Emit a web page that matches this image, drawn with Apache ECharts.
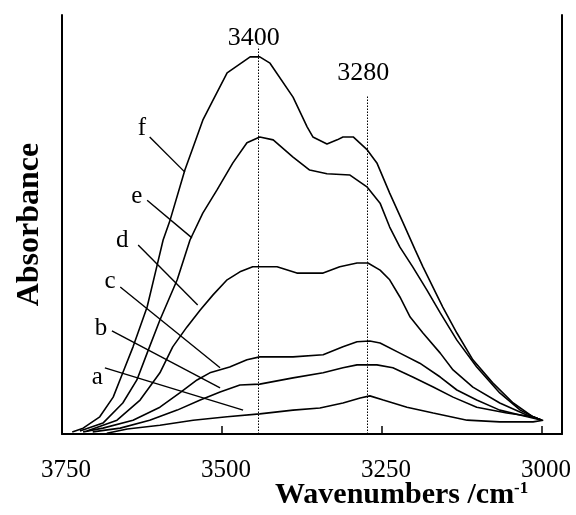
<!DOCTYPE html>
<html>
<head>
<meta charset="utf-8">
<script src="https://cdn.jsdelivr.net/npm/echarts@6/dist/echarts.min.js"></script>
<style>
  html, body { margin: 0; padding: 0; background: #fff; }
  #chart { width: 576px; height: 515px; }
</style>
</head>
<body>
<div id="chart"></div>
<script>
// tick labels on the wavenumber axis
const tickLabels = [3750, 3500, 3250, 3000];
const tickMarks = [3500, 3250, 3000];

// spectra [wavenumber, absorbance]
const curveA = [[3680,0.002],[3648,0.012],[3597,0.021],[3545,0.033],[3492,0.041],[3441,0.048],[3389,0.057],[3347,0.062],[3311,0.074],[3284,0.086],[3269,0.091],[3248,0.081],[3211,0.064],[3170,0.050],[3117,0.033],[3066,0.029],[3014,0.029],[2998,0.033]];
const curveB = [[3702,0.005],[3659,0.014],[3613,0.033],[3570,0.057],[3534,0.081],[3503,0.100],[3472,0.117],[3441,0.119],[3389,0.134],[3342,0.146],[3311,0.158],[3289,0.165],[3258,0.165],[3233,0.158],[3202,0.136],[3170,0.112],[3139,0.088],[3102,0.064],[3055,0.050],[3014,0.041],[3000,0.033]];
const curveC = [[3717,0.005],[3686,0.014],[3639,0.033],[3597,0.064],[3566,0.098],[3539,0.129],[3519,0.146],[3488,0.160],[3461,0.177],[3441,0.184],[3389,0.184],[3342,0.189],[3311,0.208],[3289,0.220],[3269,0.222],[3253,0.217],[3222,0.193],[3191,0.169],[3159,0.136],[3133,0.105],[3102,0.081],[3066,0.057],[3023,0.041],[3000,0.033]];
const curveD = [[3711,0.007],[3664,0.033],[3628,0.081],[3597,0.146],[3577,0.208],[3555,0.255],[3534,0.296],[3514,0.332],[3492,0.368],[3472,0.387],[3452,0.399],[3414,0.399],[3383,0.384],[3342,0.384],[3316,0.399],[3289,0.408],[3272,0.408],[3253,0.391],[3238,0.368],[3222,0.327],[3206,0.279],[3186,0.241],[3159,0.193],[3139,0.153],[3108,0.112],[3066,0.074],[3023,0.045],[3000,0.033]];
const curveE = [[3722,0.007],[3686,0.026],[3655,0.074],[3633,0.129],[3617,0.193],[3597,0.272],[3570,0.368],[3550,0.463],[3530,0.527],[3508,0.582],[3483,0.647],[3461,0.695],[3441,0.709],[3420,0.702],[3389,0.661],[3363,0.630],[3336,0.621],[3300,0.618],[3273,0.589],[3253,0.551],[3238,0.494],[3222,0.446],[3202,0.399],[3180,0.344],[3159,0.289],[3133,0.224],[3102,0.160],[3066,0.098],[3034,0.057],[3014,0.041],[3000,0.033]];
const curveF = [[3734,0.005],[3717,0.014],[3691,0.041],[3670,0.088],[3655,0.146],[3639,0.208],[3617,0.303],[3602,0.399],[3592,0.463],[3581,0.511],[3558,0.630],[3545,0.685],[3530,0.749],[3514,0.797],[3492,0.862],[3456,0.900],[3441,0.900],[3425,0.885],[3389,0.804],[3367,0.733],[3358,0.709],[3336,0.692],[3320,0.702],[3311,0.709],[3295,0.709],[3273,0.678],[3258,0.647],[3238,0.575],[3217,0.504],[3198,0.439],[3186,0.399],[3155,0.303],[3133,0.241],[3108,0.177],[3077,0.122],[3045,0.074],[3014,0.041],[3000,0.033]];

const curveNames = ['a', 'b', 'c', 'd', 'e', 'f'];
const curves = [curveA, curveB, curveC, curveD, curveE, curveF];

// letter positions and their leader lines (start, end)
const letterPos = [[3695,0.134],[3689,0.253],[3675,0.363],[3656,0.463],[3633,0.568],[3625,0.730]];
const leaderLines = [
  [[3683,0.158],[3467,0.057]],
  [[3672,0.246],[3503,0.110]],
  [[3659,0.351],[3503,0.158]],
  [[3631,0.451],[3538,0.308]],
  [[3617,0.558],[3547,0.468]],
  [[3613,0.709],[3558,0.625]]
];

// dotted peak markers: where drawn, label text, top of line
const peakPos = [3444, 3273];
const peakText = ['3400', '3280'];
const peakTop = [0.924, 0.809];
const peakGap = [-4, 9];

const serif = '"Liberation Serif", "Times New Roman", serif';

const chart = echarts.init(document.getElementById('chart'));

const series = curves.map((data, i) => ({
  name: curveNames[i],
  type: 'line',
  data: data,
  showSymbol: false,
  lineStyle: { color: '#000', width: 1.6 },
  markPoint: {
    symbol: 'circle',
    symbolSize: 0,
    label: { show: true, formatter: p => p.name, color: '#000', fontFamily: serif, fontSize: 25, position: 'inside' },
    data: [{ name: curveNames[i], coord: letterPos[i] }]
  },
  markLine: {
    silent: true,
    symbol: 'none',
    label: { show: false },
    lineStyle: { color: '#000', width: 1.4, type: 'solid' },
    data: [[{ coord: leaderLines[i][0] }, { coord: leaderLines[i][1] }]]
  }
}));

// dotted lines at the two band positions
series.push({
  type: 'line',
  data: [],
  markLine: {
    silent: true,
    symbol: 'none',
    lineStyle: { color: '#000', width: 1, type: [1.5, 1.5] },
    label: {
      show: true,
      position: 'end',
      offset: [-4, 0],
      formatter: p => p.name,
      color: '#000',
      fontFamily: serif,
      fontSize: 26
    },
    data: peakPos.map((w, i) => [
      { coord: [w, 0] },
      { coord: [w, peakTop[i]], name: peakText[i], label: { distance: peakGap[i] } }
    ])
  }
});

const option = {
  animation: false,
  backgroundColor: '#fff',
  grid: { left: 62, width: 500, top: 15, height: 419, outerBoundsMode: 'none', containLabel: false },
  xAxis: {
    type: 'value',
    inverse: true,
    min: 2968.75,
    max: 3750,
    axisLine: { lineStyle: { color: '#000', width: 2 } },
    axisTick: { show: false },
    axisLabel: {
      color: '#000', fontFamily: serif, fontSize: 25, margin: 24, padding: [0, 0, 0, 8],
      customValues: tickLabels, formatter: v => String(v)
    },
    splitLine: { show: false }
  },
  yAxis: [
    {
      type: 'value',
      min: 0,
      max: 1,
      name: 'Absorbance',
      nameLocation: 'middle',
      nameGap: 16,
      nameTextStyle: { color: '#000', fontFamily: serif, fontWeight: 'bold', fontSize: 32 },
      axisLine: { show: true, lineStyle: { color: '#000', width: 2 } },
      axisTick: { show: false },
      axisLabel: { show: false },
      splitLine: { show: false }
    },
    {
      type: 'value',
      position: 'right',
      min: 0,
      max: 1,
      axisLine: { show: true, lineStyle: { color: '#000', width: 2 } },
      axisTick: { show: false },
      axisLabel: { show: false },
      splitLine: { show: false }
    }
  ],
  graphic: [
    {
      type: 'text',
      id: 'xname',
      left: 275,
      top: 480,
      style: { text: 'Wavenumbers /cm', fill: '#000', font: 'bold 30px ' + serif }
    },
    {
      type: 'text',
      id: 'xsup',
      left: 514,
      top: 480,
      style: { text: '-1', fill: '#000', font: 'bold 17px ' + serif }
    }
  ],
  series: series
};

chart.setOption(option);

// inward ticks placed through the x axis scale
const tickGraphics = tickMarks.map((w, i) => {
  const x = Math.round(chart.convertToPixel({ xAxisIndex: 0 }, w));
  const y = chart.convertToPixel({ yAxisIndex: 0 }, 0);
  return {
    type: 'line',
    id: 'tick' + i,
    z: 100,
    shape: { x1: x, y1: y, x2: x, y2: y - 8 },
    style: { stroke: '#000', lineWidth: 1.5 }
  };
});
chart.setOption({ graphic: tickGraphics });
</script>
</body>
</html>
